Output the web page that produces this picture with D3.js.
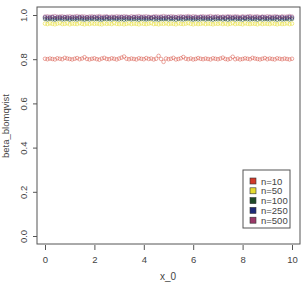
<!DOCTYPE html>
<html>
<head>
<meta charset="utf-8">
<script src="https://d3js.org/d3.v7.min.js"></script>
<style>
  body { margin: 0; background: #fff; }
  svg text { font-family: "Liberation Sans", Arial, sans-serif; fill: #444; }
</style>
</head>
<body>
<svg id="chart" width="305" height="282"></svg>
<script>
// x grid of the simulation
const xs = [0,0.1,0.2,0.3,0.4,0.5,0.6,0.7,0.8,0.9,
  1,1.1,1.2,1.3,1.4,1.5,1.6,1.7,1.8,1.9,
  2,2.1,2.2,2.3,2.4,2.5,2.6,2.7,2.8,2.9,
  3,3.1,3.2,3.3,3.4,3.5,3.6,3.7,3.8,3.9,
  4,4.1,4.2,4.3,4.4,4.5,4.6,4.7,4.8,4.9,
  5,5.1,5.2,5.3,5.4,5.5,5.6,5.7,5.8,5.9,
  6,6.1,6.2,6.3,6.4,6.5,6.6,6.7,6.8,6.9,
  7,7.1,7.2,7.3,7.4,7.5,7.6,7.7,7.8,7.9,
  8,8.1,8.2,8.3,8.4,8.5,8.6,8.7,8.8,8.9,
  9,9.1,9.2,9.3,9.4,9.5,9.6,9.7,9.8,9.9,10];

const n10 = [0.802,0.800,0.803,0.801,0.799,0.804,0.802,0.800,0.806,0.803,
  0.801,0.799,0.802,0.805,0.800,0.803,0.809,0.801,0.799,0.802,
  0.804,0.800,0.798,0.803,0.806,0.801,0.800,0.804,0.802,0.799,
  0.803,0.807,0.812,0.802,0.800,0.803,0.801,0.799,0.804,0.802,
  0.800,0.805,0.801,0.803,0.799,0.802,0.815,0.801,0.788,0.803,
  0.800,0.802,0.806,0.799,0.801,0.804,0.810,0.802,0.800,0.803,
  0.799,0.801,0.805,0.802,0.800,0.803,0.801,0.799,0.804,0.802,
  0.800,0.803,0.807,0.801,0.799,0.802,0.811,0.800,0.803,0.799,
  0.801,0.804,0.802,0.800,0.806,0.803,0.801,0.799,0.802,0.805,
  0.800,0.803,0.801,0.799,0.804,0.802,0.800,0.803,0.801,0.799,0.802];

const n50 = [0.961,0.959,0.962,0.960,0.958,0.961,0.963,0.959,0.960,0.962,
  0.958,0.961,0.960,0.959,0.963,0.960,0.958,0.961,0.959,0.962,
  0.960,0.961,0.959,0.958,0.962,0.960,0.961,0.959,0.963,0.960,
  0.959,0.961,0.958,0.960,0.962,0.959,0.961,0.960,0.958,0.962,
  0.960,0.959,0.961,0.963,0.959,0.960,0.958,0.961,0.960,0.962,
  0.959,0.961,0.960,0.958,0.962,0.960,0.959,0.961,0.963,0.960,
  0.958,0.961,0.959,0.960,0.962,0.959,0.961,0.960,0.958,0.961,
  0.960,0.962,0.959,0.961,0.958,0.960,0.963,0.959,0.961,0.960,
  0.958,0.962,0.960,0.959,0.961,0.960,0.958,0.962,0.959,0.961,
  0.960,0.959,0.962,0.960,0.958,0.961,0.959,0.960,0.962,0.959,0.961];

const n100 = [0.982,0.980,0.983,0.981,0.979,0.982,0.984,0.980,0.981,0.983,
  0.979,0.982,0.981,0.980,0.984,0.981,0.979,0.982,0.980,0.983,
  0.981,0.982,0.980,0.979,0.983,0.981,0.982,0.980,0.984,0.981,
  0.980,0.982,0.979,0.981,0.983,0.980,0.982,0.981,0.979,0.983,
  0.981,0.980,0.982,0.984,0.980,0.981,0.979,0.982,0.981,0.983,
  0.980,0.982,0.981,0.979,0.983,0.981,0.980,0.982,0.984,0.981,
  0.979,0.982,0.980,0.981,0.983,0.980,0.982,0.981,0.979,0.982,
  0.981,0.983,0.980,0.982,0.979,0.981,0.984,0.980,0.982,0.981,
  0.979,0.983,0.981,0.980,0.982,0.981,0.979,0.983,0.980,0.982,
  0.981,0.980,0.983,0.981,0.979,0.982,0.980,0.981,0.983,0.980,0.982];

const n250 = [0.989,0.987,0.988,0.990,0.986,0.988,0.989,0.987,0.990,0.988,
  0.986,0.989,0.988,0.987,0.990,0.988,0.986,0.989,0.987,0.988,
  0.990,0.987,0.989,0.986,0.988,0.990,0.987,0.988,0.989,0.986,
  0.988,0.990,0.987,0.989,0.988,0.986,0.990,0.988,0.987,0.989,
  0.988,0.986,0.989,0.987,0.990,0.988,0.987,0.989,0.986,0.988,
  0.990,0.987,0.988,0.989,0.986,0.988,0.990,0.987,0.989,0.988,
  0.986,0.989,0.987,0.990,0.988,0.987,0.989,0.986,0.988,0.990,
  0.987,0.988,0.989,0.986,0.990,0.988,0.987,0.989,0.988,0.986,
  0.989,0.987,0.990,0.988,0.986,0.989,0.988,0.987,0.990,0.988,
  0.986,0.989,0.987,0.988,0.990,0.987,0.989,0.986,0.988,0.990,0.988];

const n500 = [0.993,0.994,0.992,0.993,0.995,0.992,0.993,0.994,0.991,0.993,
  0.994,0.992,0.993,0.995,0.992,0.994,0.993,0.991,0.993,0.994,
  0.992,0.993,0.995,0.992,0.993,0.994,0.991,0.993,0.992,0.994,
  0.993,0.992,0.994,0.993,0.991,0.994,0.992,0.993,0.995,0.992,
  0.993,0.994,0.992,0.991,0.993,0.994,0.992,0.993,0.995,0.993,
  0.992,0.994,0.993,0.991,0.993,0.994,0.992,0.993,0.995,0.992,
  0.994,0.993,0.991,0.993,0.994,0.992,0.993,0.995,0.992,0.993,
  0.994,0.991,0.993,0.992,0.994,0.993,0.992,0.994,0.993,0.991,
  0.994,0.992,0.993,0.995,0.992,0.993,0.994,0.991,0.993,0.992,
  0.994,0.993,0.992,0.994,0.993,0.991,0.994,0.992,0.993,0.995,0.993];

const labels = ["n=10", "n=50", "n=100", "n=250", "n=500"];
const colors = ["#d23a2a", "#e6dc30", "#1f4a28", "#1e2a78", "#9a3868"];
const series = [n10, n50, n100, n250, n500];
const xTicks = [0, 2, 4, 6, 8, 10];
const yTicks = [0, 0.2, 0.4, 0.6, 0.8, 1.0];

const svg = d3.select("#chart");

// plot box
const box = {left: 37, right: 300, top: 7, bottom: 244};

const x = d3.scaleLinear().domain([0, 10]).range([45, 292]);
const y = d3.scaleLinear().domain([0, 1]).range([236, 15]);

// points, open circles like R pch=1 (the scan makes them look faded)
const opac = [0.55, 0.7, 0.7, 0.75, 0.5];
series.forEach(function(vals, i) {
  svg.append("g")
    .selectAll("circle")
    .data(vals)
    .join("circle")
      .attr("cx", (d, j) => x(xs[j]))
      .attr("cy", d => y(d))
      .attr("r", 1.8)
      .attr("fill", "none")
      .attr("stroke", colors[i])
      .attr("stroke-opacity", opac[i])
      .attr("stroke-width", 0.8);
});

// frame
svg.append("rect")
  .attr("x", box.left).attr("y", box.top)
  .attr("width", box.right - box.left).attr("height", box.bottom - box.top)
  .attr("fill", "none").attr("stroke", "#555").attr("stroke-width", 1);

// x axis
const gx = svg.append("g")
  .attr("transform", `translate(0,${box.bottom + 1})`)
  .call(d3.axisBottom(x).tickValues(xTicks).tickSize(5).tickFormat(d3.format("d")));
gx.select(".domain").remove();
gx.selectAll("line").attr("stroke", "#555");
gx.selectAll("text").attr("font-size", 9.5).attr("dy", 0).attr("y", 18).style("fill", "#444");

// y axis, labels rotated like R
const gy = svg.append("g")
  .attr("transform", `translate(${box.left},0)`)
  .call(d3.axisLeft(y).tickValues(yTicks).tickSize(4).tickFormat(d3.format(".1f")));
gy.select(".domain").remove();
gy.selectAll("line").attr("stroke", "#555");
gy.selectAll("text")
  .attr("font-size", 9.5)
  .attr("transform", "rotate(-90)")
  .attr("x", 0).attr("y", -10).attr("dy", 0)
  .attr("text-anchor", "middle")
  .style("fill", "#444");

// axis titles
svg.append("text")
  .attr("x", 168).attr("y", 280)
  .attr("text-anchor", "middle").attr("font-size", 10)
  .text("x_0");

svg.append("text")
  .attr("transform", "translate(9,126) rotate(-90)")
  .attr("text-anchor", "middle").attr("font-size", 9.5)
  .text("beta_blomqvist");

// legend
const leg = svg.append("g");
leg.append("rect")
  .attr("x", 243).attr("y", 170).attr("width", 47).attr("height", 58)
  .attr("fill", "#fff").attr("stroke", "#555").attr("stroke-width", 1);

labels.forEach(function(lab, i) {
  const ly = 181 + i * 9.8;
  leg.append("rect")
    .attr("x", 250).attr("y", ly - 3).attr("width", 6).attr("height", 6)
    .attr("fill", colors[i]).attr("stroke", "#333").attr("stroke-width", 0.6);
  leg.append("text")
    .attr("x", 261).attr("y", ly + 3.5)
    .attr("font-size", 9.5)
    .text(lab);
});
</script>
</body>
</html>
